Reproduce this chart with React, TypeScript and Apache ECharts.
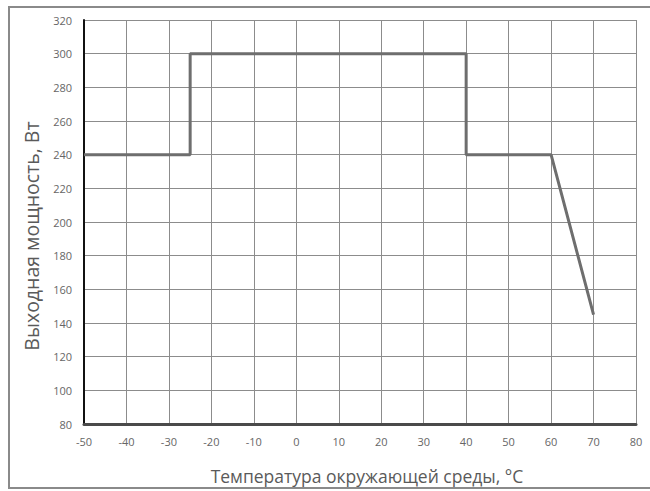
import React, { useEffect, useRef } from "react";
import * as echarts from "echarts";

const temperatures = [-50, -25, -25, 40, 40, 60, 70];
const powers = [240, 240, 300, 300, 240, 240, 145];
const xTicks = { min: -50, max: 80, step: 10 };
const yTicks = { min: 80, max: 320, step: 20 };
const xTitle = "Температура окружающей среды, °C";
const yTitle = "Выходная мощность, Вт";

const FONT = "'Open Sans', 'Noto Sans', sans-serif";

export default function App() {
  const ref = useRef<HTMLDivElement>(null);
  useEffect(() => {
    if (!ref.current) return;
    const chart = echarts.init(ref.current, undefined, { renderer: "svg" });
    const data = temperatures.map((t, i) => [t, powers[i]]);
    chart.setOption({
      animation: false,
      backgroundColor: "#ffffff",
      grid: { left: 84, top: 20, width: 552, height: 404, containLabel: false },
      graphic: [
        {
          type: "rect",
          shape: { x: 9, y: 7, width: 660, height: 481 },
          style: { fill: "none", stroke: "#8a8a8a", lineWidth: 2 },
          silent: true,
        },
      ],
      xAxis: {
        type: "value",
        min: xTicks.min,
        max: xTicks.max,
        interval: xTicks.step,
        name: xTitle,
        nameLocation: "middle",
        nameGap: 43,
        nameTextStyle: { fontFamily: FONT, fontSize: 17.5, color: "#5a5a5a", padding: [0, 0, 0, 14] },
        axisLine: { show: true, onZero: false, lineStyle: { color: "#4a4a4a", width: 3 } },
        axisTick: { show: false },
        axisLabel: { fontFamily: FONT, fontSize: 11, color: "#666666", margin: 12 },
        splitLine: { show: true, lineStyle: { color: "#8c8c8c", width: 1 } },
      },
      yAxis: {
        type: "value",
        min: yTicks.min,
        max: yTicks.max,
        interval: yTicks.step,
        name: yTitle,
        nameLocation: "middle",
        nameGap: 43,
        nameTextStyle: { fontFamily: FONT, fontSize: 19.5, color: "#5a5a5a", padding: [0, 28, 0, 0] },
        axisLine: { show: true, onZero: false, lineStyle: { color: "#111111", width: 2 } },
        axisTick: { show: false },
        axisLabel: { fontFamily: FONT, fontSize: 11, color: "#666666", margin: 12 },
        splitLine: { show: true, lineStyle: { color: "#8c8c8c", width: 1 } },
      },
      series: [
        {
          type: "line",
          data,
          symbol: "none",
          lineStyle: { color: "#6e6e6e", width: 3 },
          z: 5,
        },
      ],
    });
    return () => chart.dispose();
  }, []);
  return (
    <div
      ref={ref}
      style={{ position: "absolute", left: 0, top: 0, width: 650, height: 491 }}
    />
  );
}
